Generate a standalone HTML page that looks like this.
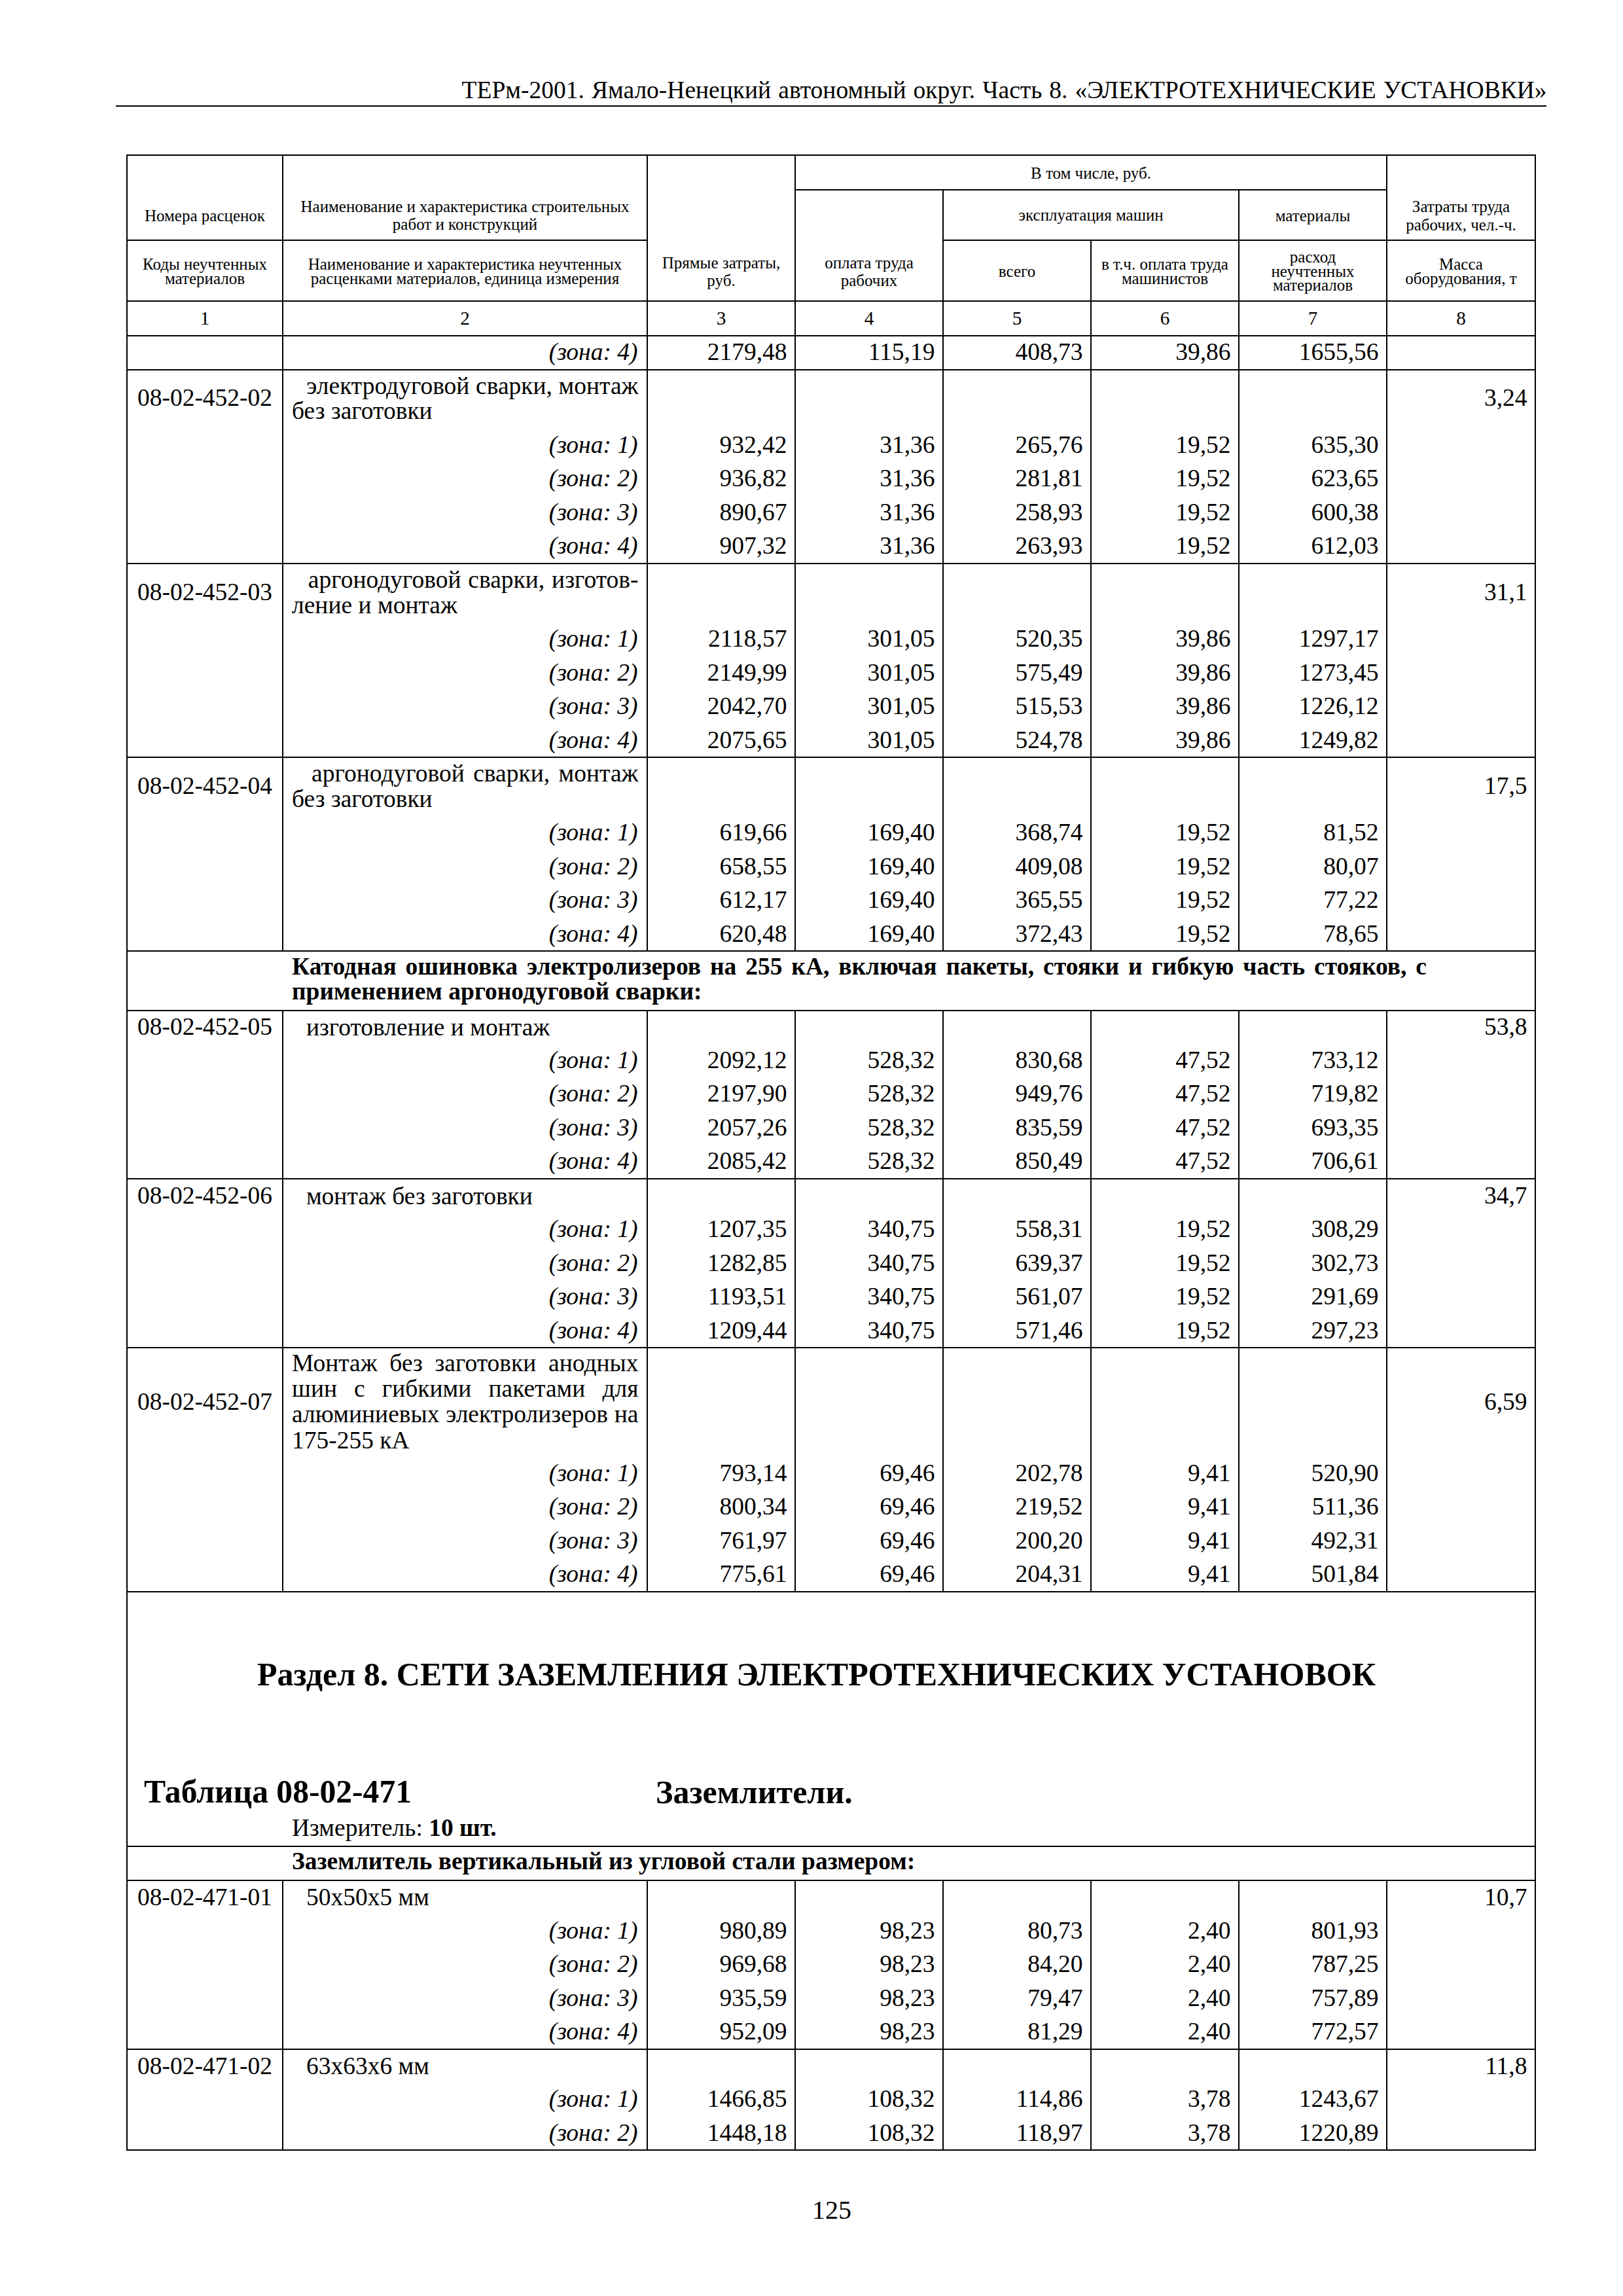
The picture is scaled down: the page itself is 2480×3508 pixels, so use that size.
<!DOCTYPE html>
<html lang="ru"><head><meta charset="utf-8"><title>ТЕРм-2001</title>
<style>
html,body{margin:0;padding:0;background:#fff;}
body{width:2480px;height:3508px;position:relative;overflow:hidden;font-family:"Liberation Serif",serif;color:#000;}
.l{position:absolute;background:#000;}
.t{position:absolute;white-space:nowrap;margin:0;padding:0;}
.i{font-style:italic;}
.b{font-weight:bold;}
.j{text-align-last:justify;}
.s{word-spacing:1.57px;}
</style></head><body>
<div class="t" style="left:177.0px;width:2186.5px;top:118.59px;font-size:37.5px;line-height:37.5px;text-align:right;word-spacing:1.7px;">ТЕРм-2001. Ямало-Ненецкий автономный округ. Часть 8. «ЭЛЕКТРОТЕХНИЧЕСКИЕ УСТАНОВКИ»</div>
<div class="l" style="left:177px;top:161px;width:2186px;height:2px"></div>
<div class="t" style="left:194.0px;width:238.0px;top:317.46px;font-size:25.0px;line-height:25.0px;text-align:center;">Номера расценок</div>
<div class="t" style="left:432.0px;width:557.0px;top:303.46px;font-size:25.0px;line-height:25.0px;text-align:center;">Наименование и характеристика строительных</div>
<div class="t" style="left:432.0px;width:557.0px;top:330.46px;font-size:25.0px;line-height:25.0px;text-align:center;">работ и конструкций</div>
<div class="t" style="left:194.0px;width:238.0px;top:391.06px;font-size:25.0px;line-height:25.0px;text-align:center;">Коды неучтенных</div>
<div class="t" style="left:194.0px;width:238.0px;top:412.56px;font-size:25.0px;line-height:25.0px;text-align:center;">материалов</div>
<div class="t" style="left:432.0px;width:557.0px;top:391.06px;font-size:25.0px;line-height:25.0px;text-align:center;">Наименование и характеристика неучтенных</div>
<div class="t" style="left:432.0px;width:557.0px;top:412.56px;font-size:25.0px;line-height:25.0px;text-align:center;">расценками материалов, единица измерения</div>
<div class="t" style="left:989.0px;width:226.0px;top:388.56px;font-size:25.0px;line-height:25.0px;text-align:center;">Прямые затраты,</div>
<div class="t" style="left:989.0px;width:226.0px;top:415.56px;font-size:25.0px;line-height:25.0px;text-align:center;">руб.</div>
<div class="t" style="left:1215.0px;width:904.0px;top:251.76px;font-size:25.0px;line-height:25.0px;text-align:center;">В том числе, руб.</div>
<div class="t" style="left:1215.0px;width:226.0px;top:388.56px;font-size:25.0px;line-height:25.0px;text-align:center;">оплата труда</div>
<div class="t" style="left:1215.0px;width:226.0px;top:415.56px;font-size:25.0px;line-height:25.0px;text-align:center;">рабочих</div>
<div class="t" style="left:1441.0px;width:452.0px;top:316.06px;font-size:25.0px;line-height:25.0px;text-align:center;">эксплуатация машин</div>
<div class="t" style="left:1893.0px;width:226.0px;top:316.76px;font-size:25.0px;line-height:25.0px;text-align:center;">материалы</div>
<div class="t" style="left:2119.0px;width:227.0px;top:303.06px;font-size:25.0px;line-height:25.0px;text-align:center;">Затраты труда</div>
<div class="t" style="left:2119.0px;width:227.0px;top:330.66px;font-size:25.0px;line-height:25.0px;text-align:center;">рабочих, чел.-ч.</div>
<div class="t" style="left:1441.0px;width:226.0px;top:402.06px;font-size:25.0px;line-height:25.0px;text-align:center;">всего</div>
<div class="t" style="left:1667.0px;width:226.0px;top:391.06px;font-size:25.0px;line-height:25.0px;text-align:center;">в т.ч. оплата труда</div>
<div class="t" style="left:1667.0px;width:226.0px;top:412.56px;font-size:25.0px;line-height:25.0px;text-align:center;">машинистов</div>
<div class="t" style="left:1893.0px;width:226.0px;top:380.06px;font-size:25.0px;line-height:25.0px;text-align:center;">расход</div>
<div class="t" style="left:1893.0px;width:226.0px;top:401.56px;font-size:25.0px;line-height:25.0px;text-align:center;">неучтенных</div>
<div class="t" style="left:1893.0px;width:226.0px;top:423.06px;font-size:25.0px;line-height:25.0px;text-align:center;">материалов</div>
<div class="t" style="left:2119.0px;width:227.0px;top:391.06px;font-size:25.0px;line-height:25.0px;text-align:center;">Масса</div>
<div class="t" style="left:2119.0px;width:227.0px;top:412.56px;font-size:25.0px;line-height:25.0px;text-align:center;">оборудования, т</div>
<div class="t" style="left:194.0px;width:238.0px;top:472.07px;font-size:29.17px;line-height:29.17px;text-align:center;">1</div>
<div class="t" style="left:432.0px;width:557.0px;top:472.07px;font-size:29.17px;line-height:29.17px;text-align:center;">2</div>
<div class="t" style="left:989.0px;width:226.0px;top:472.07px;font-size:29.17px;line-height:29.17px;text-align:center;">3</div>
<div class="t" style="left:1215.0px;width:226.0px;top:472.07px;font-size:29.17px;line-height:29.17px;text-align:center;">4</div>
<div class="t" style="left:1441.0px;width:226.0px;top:472.07px;font-size:29.17px;line-height:29.17px;text-align:center;">5</div>
<div class="t" style="left:1667.0px;width:226.0px;top:472.07px;font-size:29.17px;line-height:29.17px;text-align:center;">6</div>
<div class="t" style="left:1893.0px;width:226.0px;top:472.07px;font-size:29.17px;line-height:29.17px;text-align:center;">7</div>
<div class="t" style="left:2119.0px;width:227.0px;top:472.07px;font-size:29.17px;line-height:29.17px;text-align:center;">8</div>
<div class="l" style="left:193px;top:236px;width:2154px;height:2px"></div>
<div class="l" style="left:1214px;top:289px;width:906px;height:2px"></div>
<div class="l" style="left:193px;top:366px;width:797px;height:2px"></div>
<div class="l" style="left:1440px;top:366px;width:907px;height:2px"></div>
<div class="l" style="left:193px;top:459px;width:2154px;height:2px"></div>
<div class="l" style="left:193px;top:512px;width:2154px;height:2px"></div>
<div class="l" style="left:193px;top:237px;width:2px;height:223px"></div>
<div class="l" style="left:431px;top:237px;width:2px;height:223px"></div>
<div class="l" style="left:988px;top:237px;width:2px;height:223px"></div>
<div class="l" style="left:1214px;top:237px;width:2px;height:223px"></div>
<div class="l" style="left:2118px;top:237px;width:2px;height:223px"></div>
<div class="l" style="left:2345px;top:237px;width:2px;height:223px"></div>
<div class="l" style="left:1440px;top:290px;width:2px;height:170px"></div>
<div class="l" style="left:1892px;top:290px;width:2px;height:170px"></div>
<div class="l" style="left:1666px;top:367px;width:2px;height:93px"></div>
<div class="t i" style="left:432.0px;width:542.5px;top:518.97px;font-size:37.5px;line-height:37.5px;text-align:right;">(зона: 4)</div>
<div class="t" style="left:989.0px;width:213.5px;top:518.97px;font-size:37.5px;line-height:37.5px;text-align:right;">2179,48</div>
<div class="t" style="left:1215.0px;width:213.5px;top:518.97px;font-size:37.5px;line-height:37.5px;text-align:right;">115,19</div>
<div class="t" style="left:1441.0px;width:213.5px;top:518.97px;font-size:37.5px;line-height:37.5px;text-align:right;">408,73</div>
<div class="t" style="left:1667.0px;width:213.5px;top:518.97px;font-size:37.5px;line-height:37.5px;text-align:right;">39,86</div>
<div class="t" style="left:1893.0px;width:213.5px;top:518.97px;font-size:37.5px;line-height:37.5px;text-align:right;">1655,56</div>
<div class="l" style="left:193px;top:564px;width:2154px;height:2px"></div>
<div class="t" style="left:194.0px;width:238.0px;top:589.39px;font-size:37.5px;line-height:37.5px;text-align:center;">08-02-452-02</div>
<div class="t" style="left:2119.0px;width:214.5px;top:589.39px;font-size:37.5px;line-height:37.5px;text-align:right;">3,24</div>
<div class="t j" style="left:446.0px;width:529.5px;top:571.05px;font-size:37.5px;line-height:37.5px;text-align:justify;"><span class="s">  </span>электродуговой сварки, монтаж</div>
<div class="t" style="left:446.0px;width:529.5px;top:609.45px;font-size:37.5px;line-height:37.5px;text-align:left;">без заготовки</div>
<div class="t i" style="left:432.0px;width:542.5px;top:660.79px;font-size:37.5px;line-height:37.5px;text-align:right;">(зона: 1)</div>
<div class="t" style="left:989.0px;width:213.5px;top:660.79px;font-size:37.5px;line-height:37.5px;text-align:right;">932,42</div>
<div class="t" style="left:1215.0px;width:213.5px;top:660.79px;font-size:37.5px;line-height:37.5px;text-align:right;">31,36</div>
<div class="t" style="left:1441.0px;width:213.5px;top:660.79px;font-size:37.5px;line-height:37.5px;text-align:right;">265,76</div>
<div class="t" style="left:1667.0px;width:213.5px;top:660.79px;font-size:37.5px;line-height:37.5px;text-align:right;">19,52</div>
<div class="t" style="left:1893.0px;width:213.5px;top:660.79px;font-size:37.5px;line-height:37.5px;text-align:right;">635,30</div>
<div class="t i" style="left:432.0px;width:542.5px;top:712.34px;font-size:37.5px;line-height:37.5px;text-align:right;">(зона: 2)</div>
<div class="t" style="left:989.0px;width:213.5px;top:712.34px;font-size:37.5px;line-height:37.5px;text-align:right;">936,82</div>
<div class="t" style="left:1215.0px;width:213.5px;top:712.34px;font-size:37.5px;line-height:37.5px;text-align:right;">31,36</div>
<div class="t" style="left:1441.0px;width:213.5px;top:712.34px;font-size:37.5px;line-height:37.5px;text-align:right;">281,81</div>
<div class="t" style="left:1667.0px;width:213.5px;top:712.34px;font-size:37.5px;line-height:37.5px;text-align:right;">19,52</div>
<div class="t" style="left:1893.0px;width:213.5px;top:712.34px;font-size:37.5px;line-height:37.5px;text-align:right;">623,65</div>
<div class="t i" style="left:432.0px;width:542.5px;top:763.89px;font-size:37.5px;line-height:37.5px;text-align:right;">(зона: 3)</div>
<div class="t" style="left:989.0px;width:213.5px;top:763.89px;font-size:37.5px;line-height:37.5px;text-align:right;">890,67</div>
<div class="t" style="left:1215.0px;width:213.5px;top:763.89px;font-size:37.5px;line-height:37.5px;text-align:right;">31,36</div>
<div class="t" style="left:1441.0px;width:213.5px;top:763.89px;font-size:37.5px;line-height:37.5px;text-align:right;">258,93</div>
<div class="t" style="left:1667.0px;width:213.5px;top:763.89px;font-size:37.5px;line-height:37.5px;text-align:right;">19,52</div>
<div class="t" style="left:1893.0px;width:213.5px;top:763.89px;font-size:37.5px;line-height:37.5px;text-align:right;">600,38</div>
<div class="t i" style="left:432.0px;width:542.5px;top:815.44px;font-size:37.5px;line-height:37.5px;text-align:right;">(зона: 4)</div>
<div class="t" style="left:989.0px;width:213.5px;top:815.44px;font-size:37.5px;line-height:37.5px;text-align:right;">907,32</div>
<div class="t" style="left:1215.0px;width:213.5px;top:815.44px;font-size:37.5px;line-height:37.5px;text-align:right;">31,36</div>
<div class="t" style="left:1441.0px;width:213.5px;top:815.44px;font-size:37.5px;line-height:37.5px;text-align:right;">263,93</div>
<div class="t" style="left:1667.0px;width:213.5px;top:815.44px;font-size:37.5px;line-height:37.5px;text-align:right;">19,52</div>
<div class="t" style="left:1893.0px;width:213.5px;top:815.44px;font-size:37.5px;line-height:37.5px;text-align:right;">612,03</div>
<div class="l" style="left:193px;top:860px;width:2154px;height:2px"></div>
<div class="t" style="left:194.0px;width:238.0px;top:885.59px;font-size:37.5px;line-height:37.5px;text-align:center;">08-02-452-03</div>
<div class="t" style="left:2119.0px;width:214.5px;top:885.59px;font-size:37.5px;line-height:37.5px;text-align:right;">31,1</div>
<div class="t j" style="left:446.0px;width:529.5px;top:867.25px;font-size:37.5px;line-height:37.5px;text-align:justify;"><span class="s">  </span>аргонодуговой сварки, изготов-</div>
<div class="t" style="left:446.0px;width:529.5px;top:905.65px;font-size:37.5px;line-height:37.5px;text-align:left;">ление и монтаж</div>
<div class="t i" style="left:432.0px;width:542.5px;top:956.99px;font-size:37.5px;line-height:37.5px;text-align:right;">(зона: 1)</div>
<div class="t" style="left:989.0px;width:213.5px;top:956.99px;font-size:37.5px;line-height:37.5px;text-align:right;">2118,57</div>
<div class="t" style="left:1215.0px;width:213.5px;top:956.99px;font-size:37.5px;line-height:37.5px;text-align:right;">301,05</div>
<div class="t" style="left:1441.0px;width:213.5px;top:956.99px;font-size:37.5px;line-height:37.5px;text-align:right;">520,35</div>
<div class="t" style="left:1667.0px;width:213.5px;top:956.99px;font-size:37.5px;line-height:37.5px;text-align:right;">39,86</div>
<div class="t" style="left:1893.0px;width:213.5px;top:956.99px;font-size:37.5px;line-height:37.5px;text-align:right;">1297,17</div>
<div class="t i" style="left:432.0px;width:542.5px;top:1008.54px;font-size:37.5px;line-height:37.5px;text-align:right;">(зона: 2)</div>
<div class="t" style="left:989.0px;width:213.5px;top:1008.54px;font-size:37.5px;line-height:37.5px;text-align:right;">2149,99</div>
<div class="t" style="left:1215.0px;width:213.5px;top:1008.54px;font-size:37.5px;line-height:37.5px;text-align:right;">301,05</div>
<div class="t" style="left:1441.0px;width:213.5px;top:1008.54px;font-size:37.5px;line-height:37.5px;text-align:right;">575,49</div>
<div class="t" style="left:1667.0px;width:213.5px;top:1008.54px;font-size:37.5px;line-height:37.5px;text-align:right;">39,86</div>
<div class="t" style="left:1893.0px;width:213.5px;top:1008.54px;font-size:37.5px;line-height:37.5px;text-align:right;">1273,45</div>
<div class="t i" style="left:432.0px;width:542.5px;top:1060.09px;font-size:37.5px;line-height:37.5px;text-align:right;">(зона: 3)</div>
<div class="t" style="left:989.0px;width:213.5px;top:1060.09px;font-size:37.5px;line-height:37.5px;text-align:right;">2042,70</div>
<div class="t" style="left:1215.0px;width:213.5px;top:1060.09px;font-size:37.5px;line-height:37.5px;text-align:right;">301,05</div>
<div class="t" style="left:1441.0px;width:213.5px;top:1060.09px;font-size:37.5px;line-height:37.5px;text-align:right;">515,53</div>
<div class="t" style="left:1667.0px;width:213.5px;top:1060.09px;font-size:37.5px;line-height:37.5px;text-align:right;">39,86</div>
<div class="t" style="left:1893.0px;width:213.5px;top:1060.09px;font-size:37.5px;line-height:37.5px;text-align:right;">1226,12</div>
<div class="t i" style="left:432.0px;width:542.5px;top:1111.64px;font-size:37.5px;line-height:37.5px;text-align:right;">(зона: 4)</div>
<div class="t" style="left:989.0px;width:213.5px;top:1111.64px;font-size:37.5px;line-height:37.5px;text-align:right;">2075,65</div>
<div class="t" style="left:1215.0px;width:213.5px;top:1111.64px;font-size:37.5px;line-height:37.5px;text-align:right;">301,05</div>
<div class="t" style="left:1441.0px;width:213.5px;top:1111.64px;font-size:37.5px;line-height:37.5px;text-align:right;">524,78</div>
<div class="t" style="left:1667.0px;width:213.5px;top:1111.64px;font-size:37.5px;line-height:37.5px;text-align:right;">39,86</div>
<div class="t" style="left:1893.0px;width:213.5px;top:1111.64px;font-size:37.5px;line-height:37.5px;text-align:right;">1249,82</div>
<div class="l" style="left:193px;top:1156px;width:2154px;height:2px"></div>
<div class="t" style="left:194.0px;width:238.0px;top:1181.69px;font-size:37.5px;line-height:37.5px;text-align:center;">08-02-452-04</div>
<div class="t" style="left:2119.0px;width:214.5px;top:1181.69px;font-size:37.5px;line-height:37.5px;text-align:right;">17,5</div>
<div class="t j" style="left:446.0px;width:529.5px;top:1163.35px;font-size:37.5px;line-height:37.5px;text-align:justify;"><span class="s">  </span>аргонодуговой сварки, монтаж</div>
<div class="t" style="left:446.0px;width:529.5px;top:1201.75px;font-size:37.5px;line-height:37.5px;text-align:left;">без заготовки</div>
<div class="t i" style="left:432.0px;width:542.5px;top:1252.99px;font-size:37.5px;line-height:37.5px;text-align:right;">(зона: 1)</div>
<div class="t" style="left:989.0px;width:213.5px;top:1252.99px;font-size:37.5px;line-height:37.5px;text-align:right;">619,66</div>
<div class="t" style="left:1215.0px;width:213.5px;top:1252.99px;font-size:37.5px;line-height:37.5px;text-align:right;">169,40</div>
<div class="t" style="left:1441.0px;width:213.5px;top:1252.99px;font-size:37.5px;line-height:37.5px;text-align:right;">368,74</div>
<div class="t" style="left:1667.0px;width:213.5px;top:1252.99px;font-size:37.5px;line-height:37.5px;text-align:right;">19,52</div>
<div class="t" style="left:1893.0px;width:213.5px;top:1252.99px;font-size:37.5px;line-height:37.5px;text-align:right;">81,52</div>
<div class="t i" style="left:432.0px;width:542.5px;top:1304.54px;font-size:37.5px;line-height:37.5px;text-align:right;">(зона: 2)</div>
<div class="t" style="left:989.0px;width:213.5px;top:1304.54px;font-size:37.5px;line-height:37.5px;text-align:right;">658,55</div>
<div class="t" style="left:1215.0px;width:213.5px;top:1304.54px;font-size:37.5px;line-height:37.5px;text-align:right;">169,40</div>
<div class="t" style="left:1441.0px;width:213.5px;top:1304.54px;font-size:37.5px;line-height:37.5px;text-align:right;">409,08</div>
<div class="t" style="left:1667.0px;width:213.5px;top:1304.54px;font-size:37.5px;line-height:37.5px;text-align:right;">19,52</div>
<div class="t" style="left:1893.0px;width:213.5px;top:1304.54px;font-size:37.5px;line-height:37.5px;text-align:right;">80,07</div>
<div class="t i" style="left:432.0px;width:542.5px;top:1356.09px;font-size:37.5px;line-height:37.5px;text-align:right;">(зона: 3)</div>
<div class="t" style="left:989.0px;width:213.5px;top:1356.09px;font-size:37.5px;line-height:37.5px;text-align:right;">612,17</div>
<div class="t" style="left:1215.0px;width:213.5px;top:1356.09px;font-size:37.5px;line-height:37.5px;text-align:right;">169,40</div>
<div class="t" style="left:1441.0px;width:213.5px;top:1356.09px;font-size:37.5px;line-height:37.5px;text-align:right;">365,55</div>
<div class="t" style="left:1667.0px;width:213.5px;top:1356.09px;font-size:37.5px;line-height:37.5px;text-align:right;">19,52</div>
<div class="t" style="left:1893.0px;width:213.5px;top:1356.09px;font-size:37.5px;line-height:37.5px;text-align:right;">77,22</div>
<div class="t i" style="left:432.0px;width:542.5px;top:1407.64px;font-size:37.5px;line-height:37.5px;text-align:right;">(зона: 4)</div>
<div class="t" style="left:989.0px;width:213.5px;top:1407.64px;font-size:37.5px;line-height:37.5px;text-align:right;">620,48</div>
<div class="t" style="left:1215.0px;width:213.5px;top:1407.64px;font-size:37.5px;line-height:37.5px;text-align:right;">169,40</div>
<div class="t" style="left:1441.0px;width:213.5px;top:1407.64px;font-size:37.5px;line-height:37.5px;text-align:right;">372,43</div>
<div class="t" style="left:1667.0px;width:213.5px;top:1407.64px;font-size:37.5px;line-height:37.5px;text-align:right;">19,52</div>
<div class="t" style="left:1893.0px;width:213.5px;top:1407.64px;font-size:37.5px;line-height:37.5px;text-align:right;">78,65</div>
<div class="l" style="left:193px;top:1452px;width:2154px;height:2px"></div>
<div class="l" style="left:193px;top:460px;width:2px;height:993px"></div>
<div class="l" style="left:431px;top:460px;width:2px;height:993px"></div>
<div class="l" style="left:988px;top:460px;width:2px;height:993px"></div>
<div class="l" style="left:1214px;top:460px;width:2px;height:993px"></div>
<div class="l" style="left:1440px;top:460px;width:2px;height:993px"></div>
<div class="l" style="left:1666px;top:460px;width:2px;height:993px"></div>
<div class="l" style="left:1892px;top:460px;width:2px;height:993px"></div>
<div class="l" style="left:2118px;top:460px;width:2px;height:993px"></div>
<div class="l" style="left:2345px;top:460px;width:2px;height:993px"></div>
<div class="t b j" style="left:446.0px;width:1734.0px;top:1458.09px;font-size:37.5px;line-height:37.5px;text-align:justify;">Катодная ошиновка электролизеров на 255 кА, включая пакеты, стояки и гибкую часть стояков, с</div>
<div class="t b" style="left:446.0px;width:1900.0px;top:1496.49px;font-size:37.5px;line-height:37.5px;text-align:left;">применением аргонодуговой сварки:</div>
<div class="l" style="left:193px;top:1543px;width:2154px;height:2px"></div>
<div class="l" style="left:193px;top:1453px;width:2px;height:91px"></div>
<div class="l" style="left:2345px;top:1453px;width:2px;height:91px"></div>
<div class="t" style="left:194.0px;width:238.0px;top:1550.39px;font-size:37.5px;line-height:37.5px;text-align:center;">08-02-452-05</div>
<div class="t" style="left:2119.0px;width:214.5px;top:1550.39px;font-size:37.5px;line-height:37.5px;text-align:right;">53,8</div>
<div class="t" style="left:446.0px;width:529.5px;top:1551.05px;font-size:37.5px;line-height:37.5px;text-align:left;"><span class="s">  </span>изготовление и монтаж</div>
<div class="t i" style="left:432.0px;width:542.5px;top:1600.79px;font-size:37.5px;line-height:37.5px;text-align:right;">(зона: 1)</div>
<div class="t" style="left:989.0px;width:213.5px;top:1600.79px;font-size:37.5px;line-height:37.5px;text-align:right;">2092,12</div>
<div class="t" style="left:1215.0px;width:213.5px;top:1600.79px;font-size:37.5px;line-height:37.5px;text-align:right;">528,32</div>
<div class="t" style="left:1441.0px;width:213.5px;top:1600.79px;font-size:37.5px;line-height:37.5px;text-align:right;">830,68</div>
<div class="t" style="left:1667.0px;width:213.5px;top:1600.79px;font-size:37.5px;line-height:37.5px;text-align:right;">47,52</div>
<div class="t" style="left:1893.0px;width:213.5px;top:1600.79px;font-size:37.5px;line-height:37.5px;text-align:right;">733,12</div>
<div class="t i" style="left:432.0px;width:542.5px;top:1652.34px;font-size:37.5px;line-height:37.5px;text-align:right;">(зона: 2)</div>
<div class="t" style="left:989.0px;width:213.5px;top:1652.34px;font-size:37.5px;line-height:37.5px;text-align:right;">2197,90</div>
<div class="t" style="left:1215.0px;width:213.5px;top:1652.34px;font-size:37.5px;line-height:37.5px;text-align:right;">528,32</div>
<div class="t" style="left:1441.0px;width:213.5px;top:1652.34px;font-size:37.5px;line-height:37.5px;text-align:right;">949,76</div>
<div class="t" style="left:1667.0px;width:213.5px;top:1652.34px;font-size:37.5px;line-height:37.5px;text-align:right;">47,52</div>
<div class="t" style="left:1893.0px;width:213.5px;top:1652.34px;font-size:37.5px;line-height:37.5px;text-align:right;">719,82</div>
<div class="t i" style="left:432.0px;width:542.5px;top:1703.89px;font-size:37.5px;line-height:37.5px;text-align:right;">(зона: 3)</div>
<div class="t" style="left:989.0px;width:213.5px;top:1703.89px;font-size:37.5px;line-height:37.5px;text-align:right;">2057,26</div>
<div class="t" style="left:1215.0px;width:213.5px;top:1703.89px;font-size:37.5px;line-height:37.5px;text-align:right;">528,32</div>
<div class="t" style="left:1441.0px;width:213.5px;top:1703.89px;font-size:37.5px;line-height:37.5px;text-align:right;">835,59</div>
<div class="t" style="left:1667.0px;width:213.5px;top:1703.89px;font-size:37.5px;line-height:37.5px;text-align:right;">47,52</div>
<div class="t" style="left:1893.0px;width:213.5px;top:1703.89px;font-size:37.5px;line-height:37.5px;text-align:right;">693,35</div>
<div class="t i" style="left:432.0px;width:542.5px;top:1755.44px;font-size:37.5px;line-height:37.5px;text-align:right;">(зона: 4)</div>
<div class="t" style="left:989.0px;width:213.5px;top:1755.44px;font-size:37.5px;line-height:37.5px;text-align:right;">2085,42</div>
<div class="t" style="left:1215.0px;width:213.5px;top:1755.44px;font-size:37.5px;line-height:37.5px;text-align:right;">528,32</div>
<div class="t" style="left:1441.0px;width:213.5px;top:1755.44px;font-size:37.5px;line-height:37.5px;text-align:right;">850,49</div>
<div class="t" style="left:1667.0px;width:213.5px;top:1755.44px;font-size:37.5px;line-height:37.5px;text-align:right;">47,52</div>
<div class="t" style="left:1893.0px;width:213.5px;top:1755.44px;font-size:37.5px;line-height:37.5px;text-align:right;">706,61</div>
<div class="l" style="left:193px;top:1800px;width:2154px;height:2px"></div>
<div class="t" style="left:194.0px;width:238.0px;top:1807.89px;font-size:37.5px;line-height:37.5px;text-align:center;">08-02-452-06</div>
<div class="t" style="left:2119.0px;width:214.5px;top:1807.89px;font-size:37.5px;line-height:37.5px;text-align:right;">34,7</div>
<div class="t" style="left:446.0px;width:529.5px;top:1808.55px;font-size:37.5px;line-height:37.5px;text-align:left;"><span class="s">  </span>монтаж без заготовки</div>
<div class="t i" style="left:432.0px;width:542.5px;top:1859.19px;font-size:37.5px;line-height:37.5px;text-align:right;">(зона: 1)</div>
<div class="t" style="left:989.0px;width:213.5px;top:1859.19px;font-size:37.5px;line-height:37.5px;text-align:right;">1207,35</div>
<div class="t" style="left:1215.0px;width:213.5px;top:1859.19px;font-size:37.5px;line-height:37.5px;text-align:right;">340,75</div>
<div class="t" style="left:1441.0px;width:213.5px;top:1859.19px;font-size:37.5px;line-height:37.5px;text-align:right;">558,31</div>
<div class="t" style="left:1667.0px;width:213.5px;top:1859.19px;font-size:37.5px;line-height:37.5px;text-align:right;">19,52</div>
<div class="t" style="left:1893.0px;width:213.5px;top:1859.19px;font-size:37.5px;line-height:37.5px;text-align:right;">308,29</div>
<div class="t i" style="left:432.0px;width:542.5px;top:1910.74px;font-size:37.5px;line-height:37.5px;text-align:right;">(зона: 2)</div>
<div class="t" style="left:989.0px;width:213.5px;top:1910.74px;font-size:37.5px;line-height:37.5px;text-align:right;">1282,85</div>
<div class="t" style="left:1215.0px;width:213.5px;top:1910.74px;font-size:37.5px;line-height:37.5px;text-align:right;">340,75</div>
<div class="t" style="left:1441.0px;width:213.5px;top:1910.74px;font-size:37.5px;line-height:37.5px;text-align:right;">639,37</div>
<div class="t" style="left:1667.0px;width:213.5px;top:1910.74px;font-size:37.5px;line-height:37.5px;text-align:right;">19,52</div>
<div class="t" style="left:1893.0px;width:213.5px;top:1910.74px;font-size:37.5px;line-height:37.5px;text-align:right;">302,73</div>
<div class="t i" style="left:432.0px;width:542.5px;top:1962.29px;font-size:37.5px;line-height:37.5px;text-align:right;">(зона: 3)</div>
<div class="t" style="left:989.0px;width:213.5px;top:1962.29px;font-size:37.5px;line-height:37.5px;text-align:right;">1193,51</div>
<div class="t" style="left:1215.0px;width:213.5px;top:1962.29px;font-size:37.5px;line-height:37.5px;text-align:right;">340,75</div>
<div class="t" style="left:1441.0px;width:213.5px;top:1962.29px;font-size:37.5px;line-height:37.5px;text-align:right;">561,07</div>
<div class="t" style="left:1667.0px;width:213.5px;top:1962.29px;font-size:37.5px;line-height:37.5px;text-align:right;">19,52</div>
<div class="t" style="left:1893.0px;width:213.5px;top:1962.29px;font-size:37.5px;line-height:37.5px;text-align:right;">291,69</div>
<div class="t i" style="left:432.0px;width:542.5px;top:2013.84px;font-size:37.5px;line-height:37.5px;text-align:right;">(зона: 4)</div>
<div class="t" style="left:989.0px;width:213.5px;top:2013.84px;font-size:37.5px;line-height:37.5px;text-align:right;">1209,44</div>
<div class="t" style="left:1215.0px;width:213.5px;top:2013.84px;font-size:37.5px;line-height:37.5px;text-align:right;">340,75</div>
<div class="t" style="left:1441.0px;width:213.5px;top:2013.84px;font-size:37.5px;line-height:37.5px;text-align:right;">571,46</div>
<div class="t" style="left:1667.0px;width:213.5px;top:2013.84px;font-size:37.5px;line-height:37.5px;text-align:right;">19,52</div>
<div class="t" style="left:1893.0px;width:213.5px;top:2013.84px;font-size:37.5px;line-height:37.5px;text-align:right;">297,23</div>
<div class="l" style="left:193px;top:2058px;width:2154px;height:2px"></div>
<div class="t" style="left:194.0px;width:238.0px;top:2123.29px;font-size:37.5px;line-height:37.5px;text-align:center;">08-02-452-07</div>
<div class="t" style="left:2119.0px;width:214.5px;top:2123.29px;font-size:37.5px;line-height:37.5px;text-align:right;">6,59</div>
<div class="t j" style="left:446.0px;width:529.5px;top:2064.25px;font-size:37.5px;line-height:37.5px;text-align:justify;">Монтаж без заготовки анодных</div>
<div class="t j" style="left:446.0px;width:529.5px;top:2103.35px;font-size:37.5px;line-height:37.5px;text-align:justify;">шин с гибкими пакетами для</div>
<div class="t j" style="left:446.0px;width:529.5px;top:2142.45px;font-size:37.5px;line-height:37.5px;text-align:justify;">алюминиевых электролизеров на</div>
<div class="t" style="left:446.0px;width:529.5px;top:2181.55px;font-size:37.5px;line-height:37.5px;text-align:left;">175-255 кА</div>
<div class="t i" style="left:432.0px;width:542.5px;top:2231.59px;font-size:37.5px;line-height:37.5px;text-align:right;">(зона: 1)</div>
<div class="t" style="left:989.0px;width:213.5px;top:2231.59px;font-size:37.5px;line-height:37.5px;text-align:right;">793,14</div>
<div class="t" style="left:1215.0px;width:213.5px;top:2231.59px;font-size:37.5px;line-height:37.5px;text-align:right;">69,46</div>
<div class="t" style="left:1441.0px;width:213.5px;top:2231.59px;font-size:37.5px;line-height:37.5px;text-align:right;">202,78</div>
<div class="t" style="left:1667.0px;width:213.5px;top:2231.59px;font-size:37.5px;line-height:37.5px;text-align:right;">9,41</div>
<div class="t" style="left:1893.0px;width:213.5px;top:2231.59px;font-size:37.5px;line-height:37.5px;text-align:right;">520,90</div>
<div class="t i" style="left:432.0px;width:542.5px;top:2283.14px;font-size:37.5px;line-height:37.5px;text-align:right;">(зона: 2)</div>
<div class="t" style="left:989.0px;width:213.5px;top:2283.14px;font-size:37.5px;line-height:37.5px;text-align:right;">800,34</div>
<div class="t" style="left:1215.0px;width:213.5px;top:2283.14px;font-size:37.5px;line-height:37.5px;text-align:right;">69,46</div>
<div class="t" style="left:1441.0px;width:213.5px;top:2283.14px;font-size:37.5px;line-height:37.5px;text-align:right;">219,52</div>
<div class="t" style="left:1667.0px;width:213.5px;top:2283.14px;font-size:37.5px;line-height:37.5px;text-align:right;">9,41</div>
<div class="t" style="left:1893.0px;width:213.5px;top:2283.14px;font-size:37.5px;line-height:37.5px;text-align:right;">511,36</div>
<div class="t i" style="left:432.0px;width:542.5px;top:2334.69px;font-size:37.5px;line-height:37.5px;text-align:right;">(зона: 3)</div>
<div class="t" style="left:989.0px;width:213.5px;top:2334.69px;font-size:37.5px;line-height:37.5px;text-align:right;">761,97</div>
<div class="t" style="left:1215.0px;width:213.5px;top:2334.69px;font-size:37.5px;line-height:37.5px;text-align:right;">69,46</div>
<div class="t" style="left:1441.0px;width:213.5px;top:2334.69px;font-size:37.5px;line-height:37.5px;text-align:right;">200,20</div>
<div class="t" style="left:1667.0px;width:213.5px;top:2334.69px;font-size:37.5px;line-height:37.5px;text-align:right;">9,41</div>
<div class="t" style="left:1893.0px;width:213.5px;top:2334.69px;font-size:37.5px;line-height:37.5px;text-align:right;">492,31</div>
<div class="t i" style="left:432.0px;width:542.5px;top:2386.24px;font-size:37.5px;line-height:37.5px;text-align:right;">(зона: 4)</div>
<div class="t" style="left:989.0px;width:213.5px;top:2386.24px;font-size:37.5px;line-height:37.5px;text-align:right;">775,61</div>
<div class="t" style="left:1215.0px;width:213.5px;top:2386.24px;font-size:37.5px;line-height:37.5px;text-align:right;">69,46</div>
<div class="t" style="left:1441.0px;width:213.5px;top:2386.24px;font-size:37.5px;line-height:37.5px;text-align:right;">204,31</div>
<div class="t" style="left:1667.0px;width:213.5px;top:2386.24px;font-size:37.5px;line-height:37.5px;text-align:right;">9,41</div>
<div class="t" style="left:1893.0px;width:213.5px;top:2386.24px;font-size:37.5px;line-height:37.5px;text-align:right;">501,84</div>
<div class="l" style="left:193px;top:2431px;width:2154px;height:2px"></div>
<div class="l" style="left:193px;top:1544px;width:2px;height:888px"></div>
<div class="l" style="left:431px;top:1544px;width:2px;height:888px"></div>
<div class="l" style="left:988px;top:1544px;width:2px;height:888px"></div>
<div class="l" style="left:1214px;top:1544px;width:2px;height:888px"></div>
<div class="l" style="left:1440px;top:1544px;width:2px;height:888px"></div>
<div class="l" style="left:1666px;top:1544px;width:2px;height:888px"></div>
<div class="l" style="left:1892px;top:1544px;width:2px;height:888px"></div>
<div class="l" style="left:2118px;top:1544px;width:2px;height:888px"></div>
<div class="l" style="left:2345px;top:1544px;width:2px;height:888px"></div>
<div class="t b" style="left:247.5px;width:2000.0px;top:2533.43px;font-size:50px;line-height:50px;text-align:center;">Раздел 8. СЕТИ ЗАЗЕМЛЕНИЯ ЭЛЕКТРОТЕХНИЧЕСКИХ УСТАНОВОК</div>
<div class="t b" style="left:220.0px;width:780.0px;top:2713.26px;font-size:49.6px;line-height:49.6px;text-align:left;">Таблица 08-02-471</div>
<div class="t b" style="left:1002.0px;width:1298.0px;top:2712.93px;font-size:50px;line-height:50px;text-align:left;">Заземлители.</div>
<div class="t" style="left:446.0px;width:954.0px;top:2773.59px;font-size:37.5px;line-height:37.5px;text-align:left;">Измеритель: <b>10 шт.</b></div>
<div class="l" style="left:193px;top:2820px;width:2154px;height:2px"></div>
<div class="l" style="left:193px;top:2432px;width:2px;height:389px"></div>
<div class="l" style="left:2345px;top:2432px;width:2px;height:389px"></div>
<div class="t b" style="left:446.0px;width:1900.0px;top:2824.99px;font-size:37.5px;line-height:37.5px;text-align:left;">Заземлитель вертикальный из угловой стали размером:</div>
<div class="l" style="left:193px;top:2872px;width:2154px;height:2px"></div>
<div class="l" style="left:193px;top:2821px;width:2px;height:52px"></div>
<div class="l" style="left:2345px;top:2821px;width:2px;height:52px"></div>
<div class="t" style="left:194.0px;width:238.0px;top:2879.64px;font-size:37.5px;line-height:37.5px;text-align:center;">08-02-471-01</div>
<div class="t" style="left:2119.0px;width:214.5px;top:2879.64px;font-size:37.5px;line-height:37.5px;text-align:right;">10,7</div>
<div class="t" style="left:446.0px;width:529.5px;top:2880.30px;font-size:37.5px;line-height:37.5px;text-align:left;"><span class="s">  </span>50х50х5 мм</div>
<div class="t i" style="left:432.0px;width:542.5px;top:2930.79px;font-size:37.5px;line-height:37.5px;text-align:right;">(зона: 1)</div>
<div class="t" style="left:989.0px;width:213.5px;top:2930.79px;font-size:37.5px;line-height:37.5px;text-align:right;">980,89</div>
<div class="t" style="left:1215.0px;width:213.5px;top:2930.79px;font-size:37.5px;line-height:37.5px;text-align:right;">98,23</div>
<div class="t" style="left:1441.0px;width:213.5px;top:2930.79px;font-size:37.5px;line-height:37.5px;text-align:right;">80,73</div>
<div class="t" style="left:1667.0px;width:213.5px;top:2930.79px;font-size:37.5px;line-height:37.5px;text-align:right;">2,40</div>
<div class="t" style="left:1893.0px;width:213.5px;top:2930.79px;font-size:37.5px;line-height:37.5px;text-align:right;">801,93</div>
<div class="t i" style="left:432.0px;width:542.5px;top:2982.34px;font-size:37.5px;line-height:37.5px;text-align:right;">(зона: 2)</div>
<div class="t" style="left:989.0px;width:213.5px;top:2982.34px;font-size:37.5px;line-height:37.5px;text-align:right;">969,68</div>
<div class="t" style="left:1215.0px;width:213.5px;top:2982.34px;font-size:37.5px;line-height:37.5px;text-align:right;">98,23</div>
<div class="t" style="left:1441.0px;width:213.5px;top:2982.34px;font-size:37.5px;line-height:37.5px;text-align:right;">84,20</div>
<div class="t" style="left:1667.0px;width:213.5px;top:2982.34px;font-size:37.5px;line-height:37.5px;text-align:right;">2,40</div>
<div class="t" style="left:1893.0px;width:213.5px;top:2982.34px;font-size:37.5px;line-height:37.5px;text-align:right;">787,25</div>
<div class="t i" style="left:432.0px;width:542.5px;top:3033.89px;font-size:37.5px;line-height:37.5px;text-align:right;">(зона: 3)</div>
<div class="t" style="left:989.0px;width:213.5px;top:3033.89px;font-size:37.5px;line-height:37.5px;text-align:right;">935,59</div>
<div class="t" style="left:1215.0px;width:213.5px;top:3033.89px;font-size:37.5px;line-height:37.5px;text-align:right;">98,23</div>
<div class="t" style="left:1441.0px;width:213.5px;top:3033.89px;font-size:37.5px;line-height:37.5px;text-align:right;">79,47</div>
<div class="t" style="left:1667.0px;width:213.5px;top:3033.89px;font-size:37.5px;line-height:37.5px;text-align:right;">2,40</div>
<div class="t" style="left:1893.0px;width:213.5px;top:3033.89px;font-size:37.5px;line-height:37.5px;text-align:right;">757,89</div>
<div class="t i" style="left:432.0px;width:542.5px;top:3085.44px;font-size:37.5px;line-height:37.5px;text-align:right;">(зона: 4)</div>
<div class="t" style="left:989.0px;width:213.5px;top:3085.44px;font-size:37.5px;line-height:37.5px;text-align:right;">952,09</div>
<div class="t" style="left:1215.0px;width:213.5px;top:3085.44px;font-size:37.5px;line-height:37.5px;text-align:right;">98,23</div>
<div class="t" style="left:1441.0px;width:213.5px;top:3085.44px;font-size:37.5px;line-height:37.5px;text-align:right;">81,29</div>
<div class="t" style="left:1667.0px;width:213.5px;top:3085.44px;font-size:37.5px;line-height:37.5px;text-align:right;">2,40</div>
<div class="t" style="left:1893.0px;width:213.5px;top:3085.44px;font-size:37.5px;line-height:37.5px;text-align:right;">772,57</div>
<div class="l" style="left:193px;top:3130px;width:2154px;height:2px"></div>
<div class="t" style="left:194.0px;width:238.0px;top:3137.54px;font-size:37.5px;line-height:37.5px;text-align:center;">08-02-471-02</div>
<div class="t" style="left:2119.0px;width:214.5px;top:3137.54px;font-size:37.5px;line-height:37.5px;text-align:right;">11,8</div>
<div class="t" style="left:446.0px;width:529.5px;top:3138.20px;font-size:37.5px;line-height:37.5px;text-align:left;"><span class="s">  </span>63х63х6 мм</div>
<div class="t i" style="left:432.0px;width:542.5px;top:3188.49px;font-size:37.5px;line-height:37.5px;text-align:right;">(зона: 1)</div>
<div class="t" style="left:989.0px;width:213.5px;top:3188.49px;font-size:37.5px;line-height:37.5px;text-align:right;">1466,85</div>
<div class="t" style="left:1215.0px;width:213.5px;top:3188.49px;font-size:37.5px;line-height:37.5px;text-align:right;">108,32</div>
<div class="t" style="left:1441.0px;width:213.5px;top:3188.49px;font-size:37.5px;line-height:37.5px;text-align:right;">114,86</div>
<div class="t" style="left:1667.0px;width:213.5px;top:3188.49px;font-size:37.5px;line-height:37.5px;text-align:right;">3,78</div>
<div class="t" style="left:1893.0px;width:213.5px;top:3188.49px;font-size:37.5px;line-height:37.5px;text-align:right;">1243,67</div>
<div class="t i" style="left:432.0px;width:542.5px;top:3240.04px;font-size:37.5px;line-height:37.5px;text-align:right;">(зона: 2)</div>
<div class="t" style="left:989.0px;width:213.5px;top:3240.04px;font-size:37.5px;line-height:37.5px;text-align:right;">1448,18</div>
<div class="t" style="left:1215.0px;width:213.5px;top:3240.04px;font-size:37.5px;line-height:37.5px;text-align:right;">108,32</div>
<div class="t" style="left:1441.0px;width:213.5px;top:3240.04px;font-size:37.5px;line-height:37.5px;text-align:right;">118,97</div>
<div class="t" style="left:1667.0px;width:213.5px;top:3240.04px;font-size:37.5px;line-height:37.5px;text-align:right;">3,78</div>
<div class="t" style="left:1893.0px;width:213.5px;top:3240.04px;font-size:37.5px;line-height:37.5px;text-align:right;">1220,89</div>
<div class="l" style="left:193px;top:3284px;width:2154px;height:2px"></div>
<div class="l" style="left:193px;top:2873px;width:2px;height:412px"></div>
<div class="l" style="left:431px;top:2873px;width:2px;height:412px"></div>
<div class="l" style="left:988px;top:2873px;width:2px;height:412px"></div>
<div class="l" style="left:1214px;top:2873px;width:2px;height:412px"></div>
<div class="l" style="left:1440px;top:2873px;width:2px;height:412px"></div>
<div class="l" style="left:1666px;top:2873px;width:2px;height:412px"></div>
<div class="l" style="left:1892px;top:2873px;width:2px;height:412px"></div>
<div class="l" style="left:2118px;top:2873px;width:2px;height:412px"></div>
<div class="l" style="left:2345px;top:2873px;width:2px;height:412px"></div>
<div class="t" style="left:1171.0px;width:200.0px;top:3356.50px;font-size:40px;line-height:40px;text-align:center;">125</div>
</body></html>
